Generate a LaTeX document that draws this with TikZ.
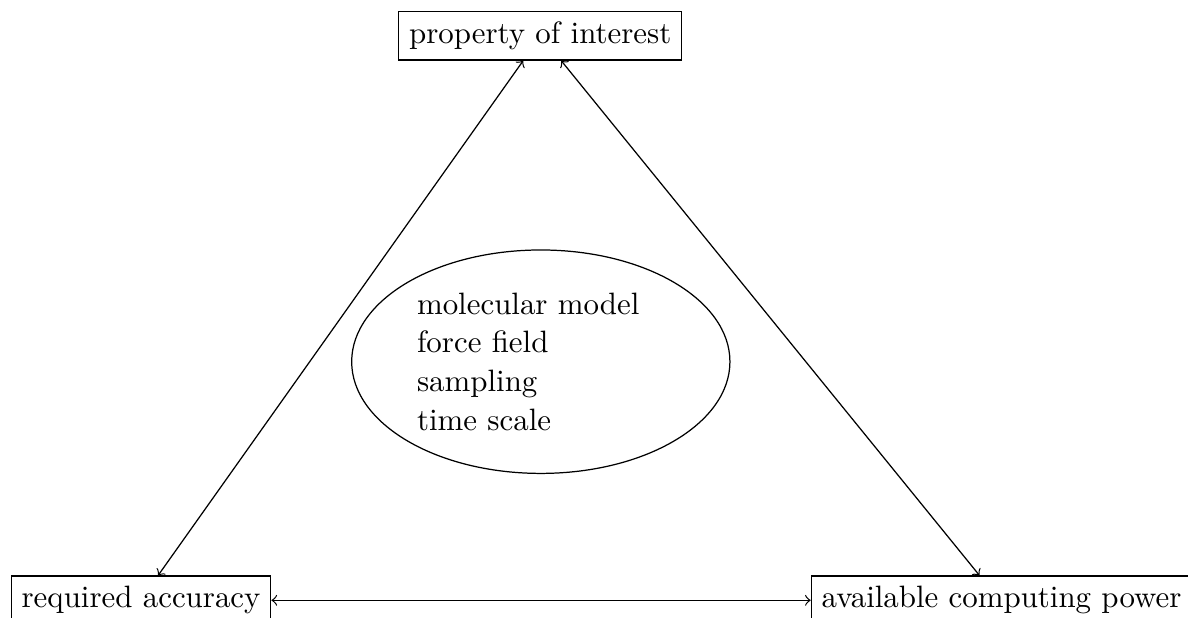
\documentclass[tikz,border=0pt]{standalone}
\usetikzlibrary{shapes.geometric,calc}
\begin{document}
\begin{tikzpicture}[x=0.3236pt,y=-0.3236pt,
  box/.style={draw,rectangle,inner sep=3.333pt},
  core/.style={draw,ellipse,inner sep=0pt,minimum width=122.4pt,minimum height=72.3pt,
    text width=80.1pt,align=left,font=\fontsize{10}{12.5}\selectfont},
  link/.style={<->}]
\useasboundingbox (0,0) rectangle (1188,618);
\node[box] (prop) at (540.2,35.7) {property of interest};
\node[box,anchor=west] (acc) at (10.7,600.3) {required accuracy};
\node[box,anchor=west] (power) at (810.7,600.3) {available computing power};
\node[core] (model) at (540.8,361.7) {molecular model\\force field\\sampling\\time scale};
\draw[link] ($(prop.south)+(-17,0)$) -- ($(acc.north)+(17,0)$);
\draw[link] ($(prop.south)+(21,0)$) -- ($(power.north)+(-22,0)$);
\draw[link] (acc.east) -- (power.west);
\end{tikzpicture}
\end{document}
